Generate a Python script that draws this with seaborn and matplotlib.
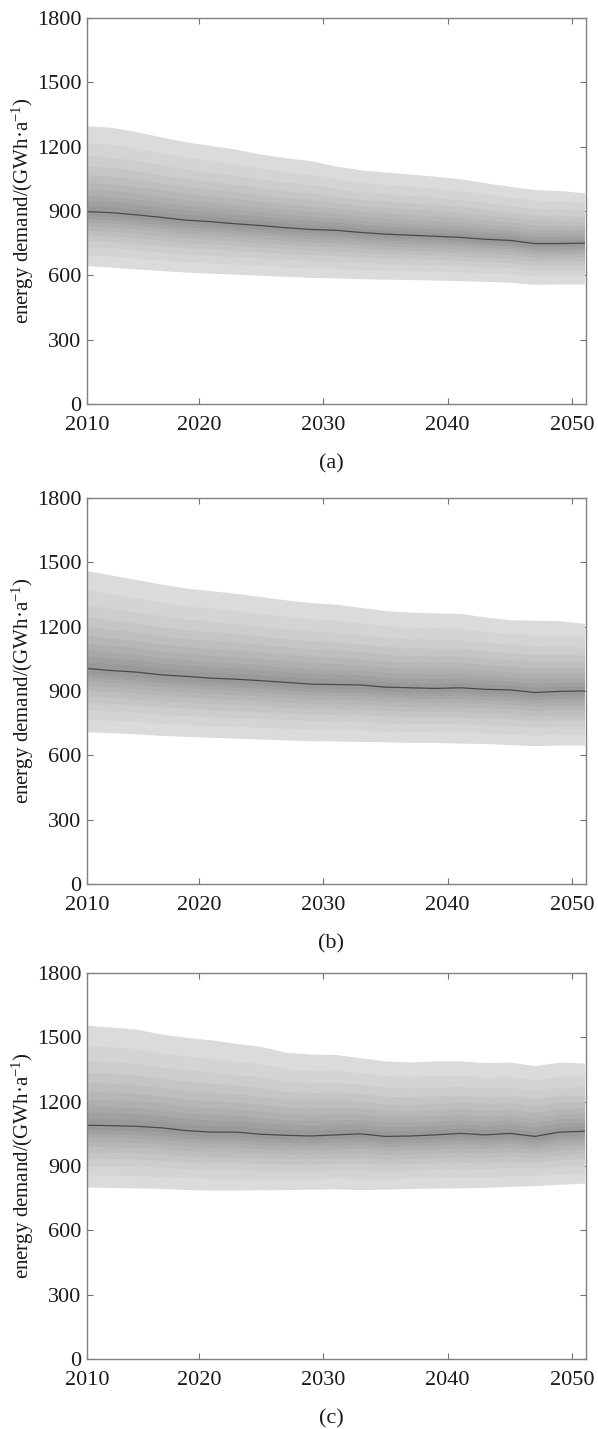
import numpy as np
import pandas as pd
import seaborn as sns
import matplotlib as mpl
import matplotlib.pyplot as plt

# years sampled every 2 years (first sample sits on the "2010" tick at the left edge)
years = [2011, 2013, 2015, 2017, 2019, 2021, 2023, 2025, 2027, 2029, 2031,
         2033, 2035, 2037, 2039, 2041, 2043, 2045, 2047, 2049, 2051]

# panel (a)
a_upper = [1298, 1290, 1270, 1245, 1222, 1205, 1188, 1165, 1148, 1135, 1110,
           1092, 1082, 1072, 1062, 1050, 1032, 1015, 1000, 995, 985]
a_median = [897, 892, 882, 870, 857, 850, 840, 832, 822, 814, 810,
            800, 792, 787, 782, 777, 768, 763, 748, 748, 750]
a_lower = [645, 638, 630, 622, 615, 610, 605, 600, 595, 590, 588,
           584, 582, 580, 578, 575, 572, 568, 558, 560, 560]

# panel (b)
b_upper = [1462, 1440, 1420, 1398, 1380, 1368, 1355, 1340, 1325, 1312, 1305,
           1290, 1275, 1268, 1264, 1262, 1245, 1232, 1230, 1228, 1215]
b_median = [1005, 995, 988, 975, 968, 960, 955, 948, 940, 932, 930,
            928, 918, 915, 912, 915, 908, 905, 893, 898, 900]
b_lower = [710, 705, 700, 693, 688, 684, 680, 676, 672, 668, 667,
           665, 663, 660, 660, 657, 655, 650, 645, 648, 648]

# panel (c)
c_upper = [1557, 1548, 1538, 1515, 1500, 1488, 1472, 1458, 1430, 1422, 1420,
           1405, 1390, 1385, 1390, 1390, 1382, 1385, 1368, 1385, 1380]
c_median = [1090, 1088, 1085, 1078, 1065, 1058, 1058, 1048, 1043, 1040, 1045,
            1050, 1038, 1040, 1045, 1052, 1045, 1052, 1038, 1058, 1062]
c_lower = [802, 800, 798, 795, 790, 788, 788, 789, 790, 792, 793,
           790, 792, 795, 797, 798, 800, 805, 808, 815, 820]

# share of the median-to-bound distance covered by each quantile band (outer -> inner)
band_levels = [1.0, 0.8, 0.65, 0.53, 0.43, 0.34, 0.26, 0.19, 0.13, 0.07]

panel_labels = ['(a)', '(b)', '(c)']
x_ticks = [2011, 2020, 2030, 2040, 2050]
x_ticklabels = ['2010', '2020', '2030', '2040', '2050']
y_ticks = [0, 300, 600, 900, 1200, 1500, 1800]

sns.set_theme(style="ticks")
plt.rcParams['font.family'] = ['Liberation Serif', 'DejaVu Serif']
plt.rcParams['mathtext.fontset'] = 'custom'
plt.rcParams['mathtext.rm'] = 'Liberation Serif'
plt.rcParams['mathtext.it'] = 'Liberation Serif:italic'

panels = [(a_upper, a_median, a_lower),
          (b_upper, b_median, b_lower),
          (c_upper, c_median, c_lower)]
bottoms = [0.7173, 0.3814, 0.0490]

fig = plt.figure(figsize=(5.98, 14.29), dpi=100)
greys = np.linspace(0.86, 0.60, len(band_levels))
fs = 16

for (upper, median, lower), bottom, label in zip(panels, bottoms, panel_labels):
    ax = fig.add_axes([0.1455, bottom, 0.834, 0.2701])
    df = pd.DataFrame({'year': years, 'upper': upper, 'median': median, 'lower': lower})
    for lvl, g in zip(band_levels, greys):
        hi = df['median'] + lvl * (df['upper'] - df['median'])
        lo = df['median'] - lvl * (df['median'] - df['lower'])
        ax.fill_between(df['year'], lo, hi, color=str(g), lw=0)
    sns.lineplot(data=df, x='year', y='median', color='#4a4a4a', lw=0.9, ax=ax)

    ax.set_xlim(2011, 2051.1)
    ax.set_ylim(0, 1800)
    ax.set_xticks(x_ticks)
    ax.set_xticklabels(x_ticklabels)
    ax.set_yticks(y_ticks)
    ax.tick_params(direction='in', length=4, width=0.8, color='#707070',
                   top=True, right=True, labelsize=fs, labelcolor='#1a1a1a')
    ax.tick_params(axis='x', pad=9)
    ax.tick_params(axis='y', pad=4)
    for sp in ax.spines.values():
        sp.set_color('#808080')
        sp.set_linewidth(1.0)
    ax.set_xlabel('')
    ax.set_ylabel(r'energy demand/(GWh·a$^{-1}$)', fontsize=15, color='#1a1a1a', labelpad=1)
    ax.text(0.49, -0.155, label, transform=ax.transAxes, ha='center', va='center',
            fontsize=fs, color='#1a1a1a')

fig.savefig('out.png', dpi=100)
